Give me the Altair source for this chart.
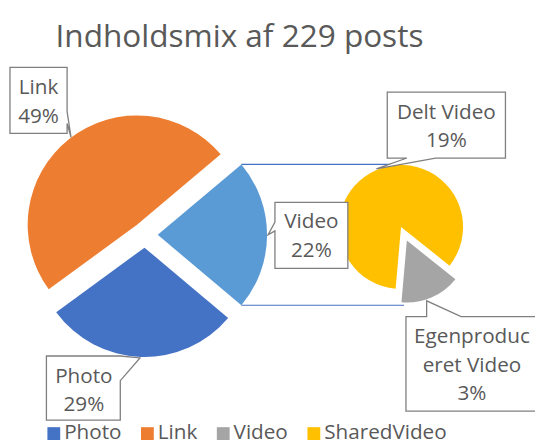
import math
import altair as alt
import pandas as pd

# ---------------- data ----------------
title_text = "Indholdsmix af 229 posts"
main_cats = ["Photo", "Link", "Video"]
main_posts = [66, 112, 51]
sub_cats = ["Delt Video", "Egenproduceret Video"]
sub_label_lines = [["Delt Video"], ["Egenproduc", "eret Video"]]
sub_posts = [43, 8]
sub_legend = ["SharedVideo", "Video"]
legend_cats = ["Photo", "Link", "Video", "SharedVideo"]
legend_colors = ["#4472C4", "#ED7D31", "#A5A5A5", "#FFC000"]
video_slice_color = "#5B9BD5"

total = sum(main_posts)
sub_total = sum(sub_posts)

# ---------------- layout (page pixels) ----------------
M = 8
def px(v):
    return v - M

MAIN_C = (147, 235)
MAIN_R = 111
MAIN_EXPLODE = 13
SUB_C = (407, 227)
SUB_R = 63
SUB_EXPLODE = [0, 15]
SUB_START = math.radians(185)
TEXT_COLOR = "#595959"
FONT = "Open Sans"

# main pie: "other" slice (Video) centred at 3 o'clock
main_start = math.pi / 2 + math.pi * main_posts[2] / total

main_df = pd.DataFrame({"cat": main_cats, "posts": main_posts})
main_df["end"] = main_df["posts"].cumsum()
main_df["start"] = main_df["end"] - main_df["posts"]
main_df["legend"] = main_cats

sub_df = pd.DataFrame({"cat": sub_cats, "posts": sub_posts})
sub_df["end"] = sub_df["posts"].cumsum()
sub_df["start"] = sub_df["end"] - sub_df["posts"]
sub_df["legend"] = sub_legend

legend = alt.Legend(
    title=None, orient="none", direction="horizontal",
    legendX=px(44), legendY=px(426),
    symbolType="square", symbolSize=169, symbolStrokeWidth=0,
    labelFontSize=21, labelFont=FONT, labelColor=TEXT_COLOR,
    labelOffset=0, columnPadding=15,
)
color_scale = alt.Scale(domain=legend_cats, range=legend_colors)

layers = []

# connector lines between Video slice and secondary pie
vi = 2
v_mid = main_start + 2 * math.pi * (main_df["start"][vi] + main_df["end"][vi]) / 2 / total
v_dx = MAIN_EXPLODE * math.sin(v_mid)
v_dy = -MAIN_EXPLODE * math.cos(v_mid)
a_top = main_start + 2 * math.pi * main_df["start"][vi] / total
a_bot = main_start + 2 * math.pi * main_df["end"][vi] / total
for a, xend in [(a_top, 400), (a_bot, 410)]:
    x0 = MAIN_C[0] + v_dx + MAIN_R * math.sin(a)
    y0 = MAIN_C[1] + v_dy - MAIN_R * math.cos(a)
    layers.append(
        alt.Chart(alt.Data(values=[{}])).mark_rule(color="#4472C4", strokeWidth=1.2).encode(
            x=alt.value(px(x0)), x2=alt.value(px(xend)), y=alt.value(px(y0))
        )
    )

# main pie slices
for i, cat in enumerate(main_cats):
    s, e = main_df["start"][i], main_df["end"][i]
    mid = main_start + 2 * math.pi * (s + e) / 2 / total
    dx = MAIN_EXPLODE * math.sin(mid)
    dy = -MAIN_EXPLODE * math.cos(mid)
    if cat == "Video":
        col = alt.value(video_slice_color)
    else:
        col = alt.Color("legend:N", scale=color_scale, legend=legend)
    layers.append(
        alt.Chart(main_df).transform_filter(alt.datum.cat == cat)
        .mark_arc(radius=MAIN_R)
        .encode(
            theta=alt.Theta("start:Q", scale=alt.Scale(domain=[0, total], range=[main_start, main_start + 2 * math.pi], nice=False)),
            theta2="end:Q",
            x=alt.value(px(MAIN_C[0] + dx)),
            y=alt.value(px(MAIN_C[1] + dy)),
            color=col,
        )
    )

# secondary pie slices
for i, cat in enumerate(sub_cats):
    s, e = sub_df["start"][i], sub_df["end"][i]
    mid = SUB_START + 2 * math.pi * (s + e) / 2 / sub_total
    dx = SUB_EXPLODE[i] * math.sin(mid)
    dy = -SUB_EXPLODE[i] * math.cos(mid)
    layers.append(
        alt.Chart(sub_df).transform_filter(alt.datum.cat == cat)
        .mark_arc(radius=SUB_R)
        .encode(
            theta=alt.Theta("start:Q", scale=alt.Scale(domain=[0, sub_total], range=[SUB_START, SUB_START + 2 * math.pi], nice=False)),
            theta2="end:Q",
            x=alt.value(px(SUB_C[0] + dx)),
            y=alt.value(px(SUB_C[1] + dy)),
            color=alt.Color("legend:N", scale=color_scale, legend=legend),
        )
    )

# data-label callouts (page coordinates of each callout outline)
callouts = [
    [(10, 65), (68, 65), (68, 110), (72, 136), (68, 122), (68, 132), (10, 132)],
    [(47, 358), (122, 358), (142, 360), (122, 383), (122, 423), (47, 423)],
    [(279, 202), (353, 202), (353, 269), (279, 269), (279, 231), (272, 235), (279, 222)],
    [(393, 90), (513, 90), (513, 157), (442, 157), (382, 168), (413, 157), (393, 157)],
    [(412, 318), (433, 318), (433, 302), (468, 318), (548, 318), (548, 414), (412, 414)],
]
for pts in callouts:
    path = "M " + " L ".join(f"{px(x):.1f} {px(y):.1f}" for x, y in pts) + " Z"
    layers.append(
        alt.Chart(alt.Data(values=[{}])).mark_point(
            shape=path, size=4, filled=True, fill="white", stroke="#7F7F7F",
            strokeWidth=1.3, opacity=1, fillOpacity=1, strokeOpacity=1,
        ).encode(x=alt.value(0), y=alt.value(0))
    )

pct = lambda v: f"{round(100 * v / total)}%"
label_texts = [
    [main_cats[1], pct(main_posts[1])],
    [main_cats[0], pct(main_posts[0])],
    [main_cats[2], pct(main_posts[2])],
    sub_label_lines[0] + [pct(sub_posts[0])],
    sub_label_lines[1] + [pct(sub_posts[1])],
]
label_pos = [(39, 92), (85, 385), (316, 228), (453, 117), (479, 345)]
for lines, (x, y) in zip(label_texts, label_pos):
    layers.append(
        alt.Chart(alt.Data(values=[{}])).mark_text(
            align="center", baseline="alphabetic", font=FONT, fontSize=21,
            color=TEXT_COLOR, lineHeight=29,
        ).encode(x=alt.value(px(x)), y=alt.value(px(y)), text=alt.value(lines))
    )

# title
layers.append(
    alt.Chart(alt.Data(values=[{}])).mark_text(
        align="center", baseline="alphabetic", font=FONT, fontSize=32, color=TEXT_COLOR,
    ).encode(x=alt.value(px(243)), y=alt.value(px(44)), text=alt.value(title_text))
)

chart = (
    alt.layer(*layers)
    .resolve_scale(theta="independent")
    .properties(width=535, height=434, autosize="none", padding=0)
    .configure_view(strokeWidth=0)
)

chart.save("out.html", embed_options={"renderer": "svg", "actions": False})
